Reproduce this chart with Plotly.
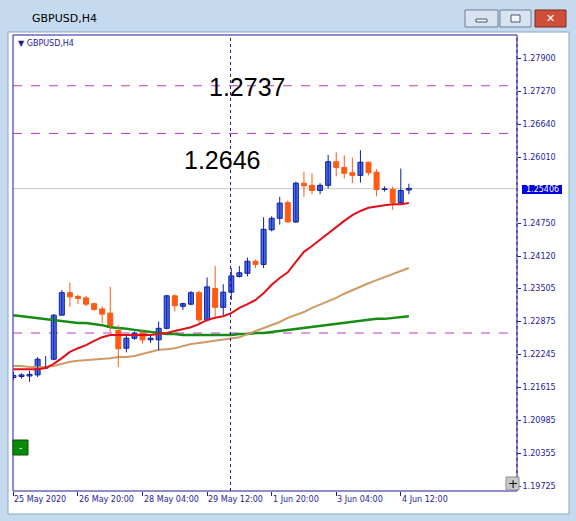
import plotly.graph_objects as go

idx = list(range(50))
opens  = [1.2180,1.2182,1.2183,1.2185,1.2198,1.2215,1.2299,1.2342,1.2335,1.2332,1.2321,1.2311,1.2303,1.2270,1.2236,1.2255,1.2265,1.2252,1.2252,1.2274,1.2336,1.2316,1.2320,1.2342,1.2290,
          1.2350,1.2314,1.2343,1.2373,1.2379,1.2402,1.2396,1.2462,1.2484,1.2514,1.2477,1.2551,1.2547,1.2537,1.2547,1.2592,1.2581,1.2571,1.2566,1.2591,1.2572,1.2539,1.2539,1.2514,1.2538]
closes = [1.2184,1.2185,1.2186,1.2215,1.2200,1.2299,1.2342,1.2334,1.2331,1.2320,1.2310,1.2301,1.2276,1.2235,1.2255,1.2265,1.2252,1.2255,1.2274,1.2336,1.2317,1.2321,1.2342,1.2290,1.2353,
          1.2314,1.2343,1.2374,1.2380,1.2402,1.2396,1.2463,1.2484,1.2513,1.2477,1.2551,1.2546,1.2537,1.2547,1.2592,1.2581,1.2570,1.2566,1.2591,1.2571,1.2539,1.2540,1.2514,1.2537,1.2541]
highs  = [1.2190,1.2188,1.2193,1.2219,1.2221,1.2301,1.2347,1.2361,1.2338,1.2336,1.2323,1.2316,1.2353,1.2280,1.2260,1.2268,1.2270,1.2262,1.2287,1.2338,1.2339,1.2323,1.2345,1.2346,1.2371,
          1.2393,1.2358,1.2389,1.2393,1.2409,1.2405,1.2486,1.2488,1.2525,1.2518,1.2554,1.2573,1.2570,1.2551,1.2605,1.2610,1.2604,1.2600,1.2614,1.2592,1.2578,1.2545,1.2545,1.2579,1.2550]
lows   = [1.2175,1.2178,1.2172,1.2181,1.2196,1.2213,1.2299,1.2315,1.2320,1.2316,1.2307,1.2284,1.2267,1.2200,1.2228,1.2252,1.2245,1.2246,1.2232,1.2272,1.2306,1.2309,1.2318,1.2283,1.2287,
          1.2296,1.2299,1.2328,1.2371,1.2373,1.2389,1.2389,1.2459,1.2472,1.2476,1.2475,1.2525,1.2530,1.2530,1.2541,1.2564,1.2560,1.2551,1.2552,1.2566,1.2526,1.2535,1.2500,1.2511,1.2530]
ma_red = [1.2196,1.2196,1.2196,1.2196,1.2198,1.2206,1.2217,1.2229,1.2236,1.2242,1.2250,1.2257,1.2261,1.2261,1.2261,1.2261,1.2261,1.2261,1.2263,1.2265,1.2269,1.2273,1.2276,1.2282,1.2290,
          1.2294,1.2297,1.2303,1.2313,1.2320,1.2328,1.2341,1.2357,1.2370,1.2381,1.2401,1.2420,1.2431,1.2443,1.2456,1.2467,1.2479,1.2490,1.2498,1.2504,1.2507,1.2509,1.2511,1.2511,1.2513]
ma_tan = [1.2202,1.2202,1.2200,1.2200,1.2200,1.2202,1.2206,1.2210,1.2212,1.2213,1.2215,1.2215,1.2217,1.2219,1.2219,1.2221,1.2225,1.2229,1.2233,1.2234,1.2236,1.2240,1.2244,1.2246,1.2248,
          1.2250,1.2252,1.2254,1.2257,1.2263,1.2269,1.2275,1.2280,1.2286,1.2294,1.2299,1.2305,1.2313,1.2319,1.2326,1.2332,1.2340,1.2347,1.2353,1.2360,1.2366,1.2372,1.2378,1.2383,1.2389]
ma_green = [1.2299,1.2297,1.2296,1.2294,1.2292,1.2290,1.2288,1.2286,1.2284,1.2284,1.2282,1.2280,1.2276,1.2275,1.2273,1.2271,1.2269,1.2267,1.2265,1.2263,1.2263,1.2261,1.2261,1.2261,1.2261,
            1.2261,1.2261,1.2261,1.2263,1.2263,1.2265,1.2265,1.2267,1.2269,1.2271,1.2273,1.2275,1.2276,1.2278,1.2280,1.2282,1.2284,1.2286,1.2288,1.2290,1.2292,1.2292,1.2294,1.2296,1.2297]
level_lines = [1.2737, 1.2646, 1.2265]
level_labels = ["1.2737", "1.2646"]
bid = 1.25406
price_ticks = [1.27900,1.27270,1.26640,1.26010,1.24750,1.24120,1.23505,1.22875,1.22245,1.21615,1.20985,1.20355,1.19725]
time_tick_idx = [0, 8, 16, 24, 32, 40, 48]
time_tick_labels = ["25 May 2020","26 May 20:00","28 May 04:00","29 May 12:00","1 Jun 20:00","3 Jun 04:00","4 Jun 12:00"]
vline_idx = 26.9

W, H = 576, 521
ML, MR, MT, MB = 13, 59, 35, 30
PW, PH = W-ML-MR, H-MT-MB
def px(x): return (x-ML)/PW
def py(y): return (H-MB-y)/PH

NAVY = "#1c1c9c"
BULL_LINE, BULL_FILL, BEAR = "#10209a", "#4a6cf0", "#ff5a14"
fig = go.Figure()

def add_candles(sel, line_c, fill_c):
    wx, wy = [], []
    for i in sel:
        wx += [idx[i], idx[i], None]; wy += [lows[i], highs[i], None]
    fig.add_trace(go.Scatter(x=wx, y=wy, mode="lines", line=dict(color=line_c, width=1),
                             showlegend=False, hoverinfo="skip"))
    fig.add_trace(go.Bar(x=[idx[i] for i in sel],
                         y=[max(abs(closes[i]-opens[i]), 0.00004) for i in sel],
                         base=[min(opens[i], closes[i]) for i in sel], width=0.62,
                         marker=dict(color=fill_c, line=dict(color=line_c, width=1)),
                         showlegend=False, hoverinfo="skip"))

bull = [i for i in idx if closes[i] >= opens[i]]
bear = [i for i in idx if closes[i] < opens[i]]
fig.add_trace(go.Scatter(x=idx, y=ma_green, mode="lines", line=dict(color="#168c16", width=2.5), showlegend=False))
fig.add_trace(go.Scatter(x=idx, y=ma_tan, mode="lines", line=dict(color="#d09a66", width=2), showlegend=False))
add_candles(bull, BULL_LINE, BULL_FILL)
add_candles(bear, BEAR, BEAR)
fig.add_trace(go.Scatter(x=idx, y=ma_red, mode="lines", line=dict(color="#e0101a", width=2), showlegend=False))

def prect(x0, x1, y0, y1, fill, line=None, lw=1, layer="above"):
    return dict(type="rect", xref="paper", yref="paper", x0=px(x0), x1=px(x1), y0=py(y1), y1=py(y0),
                fillcolor=fill, line=dict(color=line or fill, width=lw if line else 0), layer=layer)

shapes = []
shapes.append(prect(0, W, 0, H, "#c5daef", layer="below"))
shapes.append(prect(8, 569, 32, 514, "white", "#8aa6c4", layer="below"))
shapes.append(prect(465, 498, 10, 27, "#d9e4f0", "#6a7f99"))
shapes.append(prect(500, 531, 10, 27, "#d9e4f0", "#6a7f99"))
shapes.append(prect(535, 566, 10, 27, "#cf4e3a", "#7a2a20"))
shapes.append(prect(476, 487, 19, 22, "#f4f6fa", "#4a5a70"))
shapes.append(prect(511, 520, 15, 22, "#f4f6fa", "#4a5a70"))
shapes.append(dict(type="rect", xref="paper", yref="paper", x0=0, x1=1, y0=0, y1=1,
                   line=dict(color=NAVY, width=1)))
for lv in level_lines:
    shapes.append(dict(type="line", xref="paper", yref="y", x0=0, x1=1, y0=lv, y1=lv,
                       line=dict(color="#b83cb8", width=1, dash="dash"), layer="below"))
shapes.append(dict(type="line", xref="paper", yref="y", x0=0, x1=1, y0=bid, y1=bid,
                   line=dict(color="#c8c8c8", width=1), layer="below"))
shapes.append(dict(type="line", xref="x", yref="paper", x0=vline_idx, x1=vline_idx, y0=0, y1=1,
                   line=dict(color=NAVY, width=1, dash="dot")))
shapes.append(dict(type="line", xref="paper", yref="paper", x0=px(517), x1=px(517), y0=0, y1=1,
                   line=dict(color=NAVY, width=1, dash="dot")))
shapes.append(prect(13, 28, 440, 455, "#0a8a0a", "#055005"))
shapes.append(prect(506, 519, 477, 490, "#c8c8c8", "#909090"))
shapes.append(prect(522, 562, 185, 194, "#0000e0"))

def pann(x, y, text, size, color, family="DejaVu Sans", xanchor="center"):
    return dict(x=px(x), y=py(y), xref="paper", yref="paper", text=text, showarrow=False,
                xanchor=xanchor, yanchor="middle", font=dict(family=family, size=size, color=color))

anns = [
    pann(247, 87, level_labels[0], 25, "black", "Arial"),
    pann(222, 160, level_labels[1], 25, "black", "Arial"),
    pann(30, 18, "GBPUSD,H4", 11, "black", xanchor="left"),
    pann(16, 43, "▼ GBPUSD,H4", 8, NAVY, xanchor="left"),
    pann(542, 189.5, f"{bid:.5f}", 8, "white"),
    pann(20.5, 447.5, "-", 9, "white"),
    pann(512.5, 483.5, "+", 12, "black"),
    pann(550.5, 18.5, "✕", 11, "white"),
]
for ti, tl in zip(time_tick_idx, time_tick_labels):
    anns.append(dict(x=ti, y=py(500), xref="x", yref="paper", text=tl, showarrow=False, xanchor="left",
                     yanchor="middle", xshift=-1, font=dict(family="DejaVu Sans", size=8, color=NAVY)))

fig.update_layout(
    width=W, height=H, autosize=False, margin=dict(l=ML, r=MR, t=MT, b=MB, autoexpand=False),
    paper_bgcolor="white", plot_bgcolor="white", barmode="overlay",
    shapes=shapes, annotations=anns,
    xaxis=dict(range=[-0.05, 62.4], showgrid=False, zeroline=False, automargin=False,
               tickmode="array", tickvals=time_tick_idx, ticktext=[""]*len(time_tick_idx),
               ticks="outside", ticklen=4, tickcolor=NAVY, showline=False),
    yaxis=dict(range=[1.19634, 1.28339], side="right", showgrid=False, zeroline=False, automargin=False,
               tickmode="array", tickvals=price_ticks, ticktext=[f"{v:.5f}" for v in price_ticks],
               ticks="outside", ticklen=3, tickcolor=NAVY,
               tickfont=dict(family="DejaVu Sans", size=8, color=NAVY)),
)
fig.write_html("out.html", config={"displayModeBar": False},
               post_script="document.body.style.margin='0';document.body.style.overflow='hidden';")
